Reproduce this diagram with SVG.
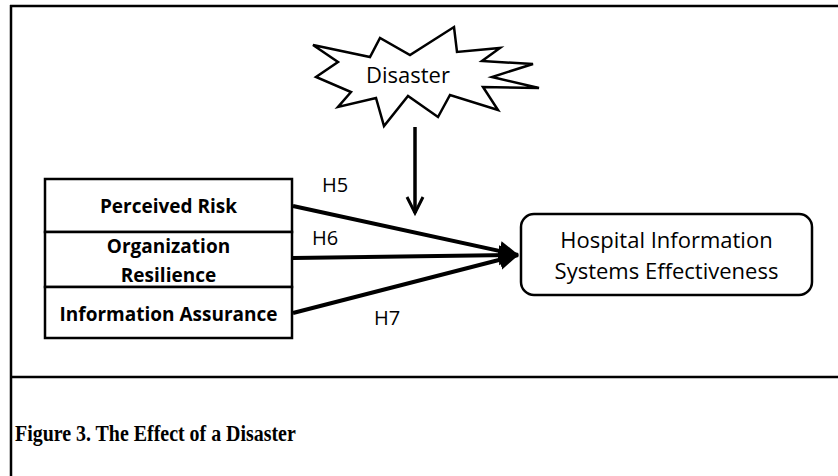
<svg xmlns="http://www.w3.org/2000/svg" width="838" height="476" viewBox="0 0 838 476">
  <style>
    .frame { stroke: #000; stroke-width: 2.5; fill: none; }
    .box { fill: #fff; stroke: #000; stroke-width: 2.5; }
    .lbl { font-family: "Open Sans", "Liberation Sans", sans-serif; fill: #000; text-anchor: middle; }
    .reg { font-size: 22px; }
    .bold { font-size: 19px; font-weight: bold; }
    .hyp { font-family: "Open Sans", "Liberation Sans", sans-serif; font-size: 20px; fill: #000; }
    .path { stroke: #000; stroke-width: 4; fill: none; }
    .caption { font-family: "Liberation Serif", "Times New Roman", serif; font-size: 24px; font-weight: bold; fill: #000; }
  </style>
  <defs>
    <marker id="head" markerUnits="userSpaceOnUse" markerWidth="22" markerHeight="26" refX="19" refY="13" orient="auto">
      <path d="M0,3 L20,13 L0,23 Z" fill="#000"/>
    </marker>
    <marker id="vee" markerUnits="userSpaceOnUse" markerWidth="22" markerHeight="22" refX="18" refY="11" orient="auto">
      <path d="M2,3 L18,11 L2,19" fill="none" stroke="#000" stroke-width="3"/>
    </marker>
  </defs>

  <rect width="838" height="476" fill="#fff"/>

  <!-- figure frame -->
  <g id="frame">
    <path class="frame" d="M11,5 V476 M10,6 H838 M11,377 H838"/>
  </g>

  <!-- disaster event -->
  <g id="disaster">
    <polygon class="box" points="313,45 370,57 380,38 410,55 454,27 457,52 500,48 482,61 533,64 492,77 539,88 483,87 498,110 450,95 438,117 408,96 384,126 376,98 338,107 351,92 316,77 338,62"/>
    <text class="lbl reg" x="408" y="83">Disaster</text>
  </g>

  <!-- predictor stack -->
  <g id="perceived-risk">
    <rect class="box" x="45" y="179" width="247" height="53"/>
    <text class="lbl bold" x="168.5" y="213">Perceived Risk</text>
  </g>
  <g id="organization-resilience">
    <rect class="box" x="45" y="232" width="247" height="55"/>
    <text class="lbl bold" x="168.5" y="253">Organization</text>
    <text class="lbl bold" x="168.5" y="282">Resilience</text>
  </g>
  <g id="information-assurance">
    <rect class="box" x="45" y="287" width="247" height="51"/>
    <text class="lbl bold" x="168.5" y="321">Information Assurance</text>
  </g>

  <!-- outcome -->
  <g id="his-effectiveness">
    <rect class="box" x="521" y="214" width="291" height="81" rx="13" ry="13"/>
    <text class="lbl reg" x="666.5" y="248">Hospital Information</text>
    <text class="lbl reg" x="666.5" y="279">Systems Effectiveness</text>
  </g>

  <!-- connectors -->
  <g id="connectors">
    <line class="path" x1="293" y1="206" x2="518" y2="255" marker-end="url(#head)"/>
    <line class="path" x1="293" y1="258" x2="518" y2="255" marker-end="url(#head)"/>
    <line class="path" x1="293" y1="313" x2="518" y2="255" marker-end="url(#head)"/>
    <line x1="415" y1="127" x2="415" y2="213" stroke="#000" stroke-width="3.5" marker-end="url(#vee)"/>
    <text class="hyp" x="322" y="192">H5</text>
    <text class="hyp" x="312" y="245">H6</text>
    <text class="hyp" x="374" y="325">H7</text>
  </g>

  <!-- caption -->
  <text class="caption" transform="translate(15,441) scale(0.83,1)">Figure 3. The Effect of a Disaster</text>
</svg>
